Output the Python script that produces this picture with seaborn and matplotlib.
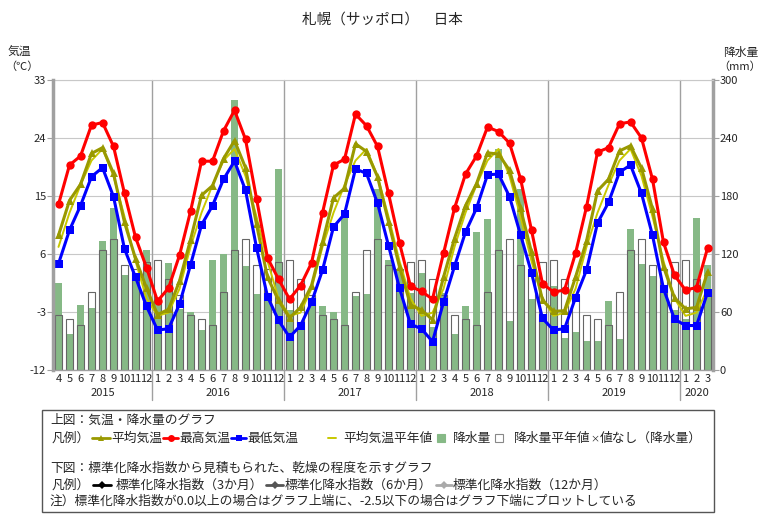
import numpy as np
import pandas as pd
import seaborn as sns
import matplotlib
matplotlib.use("Agg")
import matplotlib.pyplot as plt
from matplotlib.lines import Line2D
from matplotlib.patches import Rectangle

# data: Apr 2015 .. Mar 2020 (monthly)
month_labels = [4, 5, 6, 7, 8, 9, 10, 11, 12, 1, 2, 3] * 5
first_year = 2015

tmax = [13.7, 19.8, 21.2, 26.0, 26.4, 22.7, 15.4, 8.6, 3.9, -1.3, 0.7, 5.8,
        12.6, 20.4, 20.4, 25.1, 28.3, 23.8, 14.6, 5.4, 2.1, -1.0, 1.1, 4.6,
        12.4, 19.8, 20.7, 27.7, 25.9, 22.7, 15.4, 7.7, 1.0, 0.2, -1.0, 6.1,
        13.1, 18.4, 21.2, 25.7, 25.0, 23.2, 17.7, 9.7, 1.4, 0.1, 0.4, 6.1,
        13.3, 21.8, 22.5, 26.2, 26.5, 24.0, 17.6, 7.8, 2.7, 0.4, 0.8, 6.9]
tmin = [4.5, 9.7, 13.5, 18.0, 19.4, 14.9, 6.8, 2.4, -2.1, -5.8, -5.6, -1.8,
        4.3, 10.5, 13.5, 17.6, 20.4, 15.9, 7.0, -0.6, -4.3, -6.9, -5.1, -1.5,
        3.5, 10.2, 12.2, 19.2, 18.5, 13.9, 7.3, 0.7, -4.9, -5.6, -7.6, -1.5,
        4.1, 9.4, 13.1, 18.3, 18.4, 14.9, 9.0, 3.1, -4.0, -5.8, -5.6, -0.8,
        3.5, 10.8, 14.0, 18.7, 19.8, 15.4, 8.9, 0.6, -4.1, -5.1, -5.1, 0.0]
tavg = [8.9, 14.3, 16.8, 21.6, 22.5, 18.5, 10.9, 5.3, 0.7, -3.4, -2.6, 1.8,
        8.2, 15.1, 16.6, 20.8, 23.6, 19.4, 10.6, 2.4, -1.2, -3.9, -2.3, 1.1,
        7.8, 14.7, 16.2, 23.1, 21.9, 18.0, 11.0, 4.0, -1.9, -2.7, -4.2, 2.4,
        8.4, 13.5, 16.9, 21.7, 21.5, 19.0, 13.1, 6.3, -1.2, -2.9, -2.8, 2.4,
        8.0, 15.8, 17.6, 22.0, 22.8, 19.3, 13.0, 4.0, -0.8, -2.5, -2.3, 3.2]
tavg_normal_12 = [7.1, 12.4, 16.7, 20.5, 22.3, 18.1, 11.8, 4.9, -0.9, -3.6, -3.1, 0.6]
precip = [90, 37, 67, 64, 133, 168, 98, 95, 124, 75, 111, 63,
          60, 41, 114, 120, 279, 108, 79, 80, 208, 62, 50, 70,
          66, 60, 165, 77, 79, 187, 114, 105, 80, 100, 45, 80,
          37, 66, 143, 156, 229, 51, 187, 73, 50, 87, 33, 39,
          30, 30, 71, 32, 146, 110, 97, 80, 62, 53, 157, 109]
precip_normal_12 = [56.8, 53.1, 46.8, 81.0, 123.8, 135.2, 108.7, 104.1, 111.7, 113.6, 94.0, 77.8]

df = pd.DataFrame({
    "idx": range(len(month_labels)),
    "tmax": tmax,
    "tmin": tmin,
    "tavg": tavg,
    "tavg_normal": tavg_normal_12 * 5,
    "precip": precip,
    "precip_normal": precip_normal_12 * 5,
})

sns.set_style("white")
plt.rcParams["font.family"] = ["Noto Sans CJK JP", "DejaVu Sans"]
plt.rcParams["axes.unicode_minus"] = False

W, H = 764, 523
fig = plt.figure(figsize=(W / 100, H / 100), dpi=100)


def fx(px):
    return px / W


def fy(py):
    return 1 - py / H


ax = fig.add_axes([fx(53), fy(370), fx(713) - fx(53), fy(80) - fy(370)])
ax2 = ax.twinx()

GRAY = "#a0a0a0"

# precipitation bars (right axis)
sns.barplot(data=df, x="idx", y="precip", native_scale=True, ax=ax2,
            color="#86b986", saturation=1, width=0.72, errorbar=None,
            linewidth=0, zorder=2)
sns.barplot(data=df, x="idx", y="precip_normal", native_scale=True, ax=ax2,
            color="#666666", fill=False, width=0.72, errorbar=None,
            linewidth=0.8, zorder=3)

# temperature lines (left axis)
sns.lineplot(data=df, x="idx", y="tavg_normal", ax=ax, color="#c8c800",
             linewidth=1.4, errorbar=None)
sns.lineplot(data=df, x="idx", y="tavg", ax=ax, color="#999900", marker="^",
             markersize=6, markeredgewidth=0, linewidth=2.2, errorbar=None)
sns.lineplot(data=df, x="idx", y="tmin", ax=ax, color="#0000ff", marker="s",
             markersize=6, markeredgewidth=0, linewidth=2.2, errorbar=None)
sns.lineplot(data=df, x="idx", y="tmax", ax=ax, color="#ff0000", marker="o",
             markersize=6, markeredgewidth=0, linewidth=2.2, errorbar=None)

ax.set_zorder(ax2.get_zorder() + 1)
ax.patch.set_visible(False)

n = len(month_labels)
ax.set_xlim(-0.5, n - 0.5)
ax.set_ylim(-12, 33)
ax.set_yticks(range(-12, 34, 9))
ax2.set_ylim(0, 300)
ax2.set_yticks(range(0, 301, 60))
for a in (ax, ax2):
    a.set_xlabel("")
    a.set_ylabel("")

ax2.yaxis.grid(True, color="#c8c8c8", linewidth=0.8)
ax2.set_axisbelow(True)

ax.set_xticks(df["idx"])
ax.set_xticklabels(month_labels)
ax.set_xticks(np.arange(-0.5, n, 1), minor=True)
ax.tick_params(axis="x", which="major", length=0, labelsize=8, pad=3)
ax.tick_params(axis="x", which="minor", length=5, color=GRAY, width=1)
ax.tick_params(axis="y", length=4, color=GRAY, labelsize=8, pad=1)
ax2.tick_params(axis="y", length=4, color=GRAY, labelsize=8, pad=1)

for s in ("top", "right"):
    ax.spines[s].set_visible(False)
ax.spines["left"].set_color(GRAY)
ax.spines["left"].set_linewidth(2.5)
ax.spines["bottom"].set_color(GRAY)
ax.spines["bottom"].set_linewidth(1)
ax2.spines["left"].set_visible(False)
ax2.spines["bottom"].set_visible(False)
ax2.spines["top"].set_color("#c8c8c8")
ax2.spines["top"].set_linewidth(0.8)
ax2.spines["right"].set_color(GRAY)
ax2.spines["right"].set_linewidth(2.5)

# year separators and labels
jan_idx = [i for i, m in enumerate(month_labels) if m == 1]
for i in jan_idx:
    ax2.axvline(i - 0.5, ymin=-0.105, ymax=1, color=GRAY, linewidth=1,
                clip_on=False, zorder=1)
starts = [0] + jan_idx
ends = jan_idx + [n]
trans = ax.get_xaxis_transform()
for k, (s0, e0) in enumerate(zip(starts, ends)):
    ax.text((s0 + e0 - 1) / 2, -0.078, str(first_year + k), transform=trans,
            ha="center", va="center", fontsize=8)

# titles and axis captions
fig.text(0.5, fy(20), "札幌（サッポロ）　日本", ha="center", va="center", fontsize=10.5)
fig.text(fx(19), fy(52), "気温", ha="center", va="center", fontsize=8.5)
fig.text(fx(22), fy(67), "（℃）", ha="center", va="center", fontsize=8)
fig.text(fx(741), fy(52), "降水量", ha="center", va="center", fontsize=8.5)
fig.text(fx(740), fy(67), "（mm）", ha="center", va="center", fontsize=8)

# explanation box
fig.add_artist(Rectangle((fx(42), fy(512)), fx(714) - fx(42), fy(410) - fy(512),
                         fill=False, edgecolor="#555555", linewidth=1,
                         transform=fig.transFigure))
FS = 9.2


def txt(x, y, s):
    fig.text(fx(x), fy(y), s, ha="left", va="center", fontsize=FS)


def sym(x0, x1, y, color, lw, marker=None, ms=5):
    fig.add_artist(Line2D([fx(x0), fx(x1)], [fy(y), fy(y)], color=color,
                          linewidth=lw, transform=fig.transFigure))
    if marker:
        fig.add_artist(Line2D([fx((x0 + x1) / 2)], [fy(y)], marker=marker,
                              color=color, markersize=ms, markeredgewidth=0,
                              linestyle="none", transform=fig.transFigure))


def square(x, y, face, edge):
    fig.add_artist(Rectangle((fx(x), fy(y + 4)), fx(8), fy(0) - fy(8),
                             facecolor=face, edgecolor=edge, linewidth=0.8,
                             transform=fig.transFigure))


txt(50, 420, "上図：気温・降水量のグラフ")
y2 = 438
txt(52, y2, "凡例）")
sym(92, 110, y2, "#999900", 2, "^", 5)
txt(111, y2, "平均気温")
sym(163, 178, y2, "#ff0000", 2, "o", 5)
txt(179, y2, "最高気温")
sym(231, 246, y2, "#0000ff", 2, "s", 5)
txt(247, y2, "最低気温")
sym(328, 336, y2, "#c8c800", 1.4)
txt(343, y2, "平均気温平年値")
square(437, y2, "#86b986", "#86b986")
txt(453, y2, "降水量")
square(495, y2, "white", "#888888")
txt(514, y2, "降水量平年値")
fig.text(fx(595), fy(y2 + 1), "×", ha="center", va="center", fontsize=6.5)
txt(600, y2, "値なし（降水量）")

txt(50, 468, "下図：標準化降水指数から見積もられた、乾燥の程度を示すグラフ")
y5 = 485
txt(52, y5, "凡例）")
sym(93, 111, y5, "#000000", 2, "D", 4.5)
txt(116, y5, "標準化降水指数（3か月）")
sym(266, 283, y5, "#555555", 2, "D", 4.5)
txt(285, y5, "標準化降水指数（6か月）")
sym(436, 452, y5, "#aaaaaa", 2, "D", 4.5)
txt(453, y5, "標準化降水指数（12か月）")
txt(50, 501, "注）標準化降水指数が0.0以上の場合はグラフ上端に、-2.5以下の場合はグラフ下端にプロットしている")

fig.savefig("out.png", dpi=100)
